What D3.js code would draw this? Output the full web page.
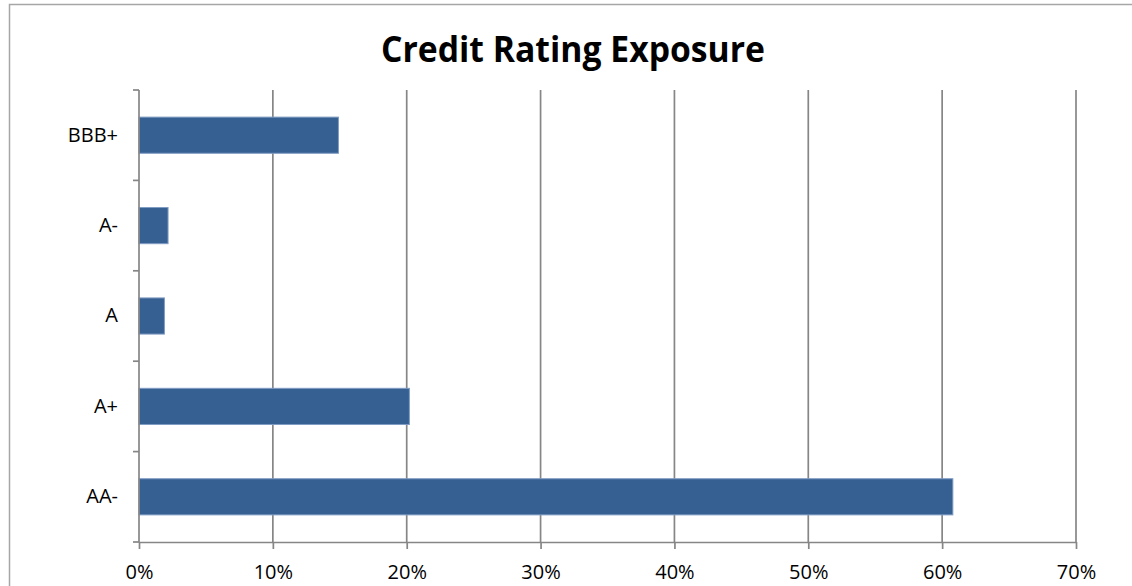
<!DOCTYPE html>
<html>
<head>
<meta charset="utf-8">
<script src="https://cdn.jsdelivr.net/npm/d3@7"></script>
<style>
  html, body { margin: 0; padding: 0; background: #fff; }
</style>
</head>
<body>
<div id="chart"></div>
<script>
// Chart values
const ratings = ["BBB+", "A-", "A", "A+", "AA-"];
const exposure = [0.149, 0.0217, 0.019, 0.202, 0.608];
const xTicks = [0, 0.1, 0.2, 0.3, 0.4, 0.5, 0.6, 0.7];
const title = "Credit Rating Exposure";

const data = ratings.map((r, i) => ({rating: r, value: exposure[i]}));

const width = 1132, height = 586;
const margins = {top: 90, right: 56, bottom: 44, left: 139};
const gridColor = "#868686";
const font = "'Open Sans', sans-serif";

const svg = d3.select("#chart")
  .append("svg")
  .attr("width", width)
  .attr("height", height)
  .attr("viewBox", [0, 0, width, height]);

// Chart area border
svg.append("rect")
  .attr("x", 9.5)
  .attr("y", 4.5)
  .attr("width", width + 20)
  .attr("height", height + 20)
  .attr("fill", "#fff")
  .attr("stroke", "#a6a6a6")
  .attr("stroke-width", 1.5);

// Scales
const x = d3.scaleLinear()
  .domain([0, 0.7])
  .range([margins.left, width - margins.right]);

const y = d3.scaleBand()
  .domain(ratings)
  .range([margins.top, height - margins.bottom])
  .paddingInner(0.6)
  .paddingOuter(0.3);

// Vertical gridlines
svg.append("g")
  .selectAll("line")
  .data(xTicks.slice(1))
  .join("line")
    .attr("x1", d => x(d))
    .attr("x2", d => x(d))
    .attr("y1", margins.top)
    .attr("y2", height - margins.bottom)
    .attr("stroke", gridColor)
    .attr("stroke-width", 1.7);

// Bars
svg.append("g")
  .selectAll("rect")
  .data(data)
  .join("rect")
    .attr("x", x(0))
    .attr("y", d => y(d.rating))
    .attr("width", d => x(d.value) - x(0))
    .attr("height", y.bandwidth())
    .attr("fill", "#376092")
    .attr("stroke", "#7f9cc4")
    .attr("stroke-width", 1);

// X axis
const xAxis = d3.axisBottom(x)
  .tickValues(xTicks)
  .tickFormat(d3.format(".0%"))
  .tickSize(7)
  .tickSizeOuter(0)
  .tickPadding(16);

svg.append("g")
    .attr("transform", `translate(0,${height - margins.bottom})`)
  .call(xAxis)
  .call(g => g.selectAll("line, path").attr("stroke", gridColor).attr("stroke-width", 1.7))
  .call(g => g.selectAll("text")
    .attr("fill", "#000")
    .style("font-family", font)
    .style("font-size", "20px"));

// Y axis (labels at band centres, ticks at band boundaries)
const yAxis = d3.axisLeft(y)
  .tickSize(0)
  .tickPadding(21);

svg.append("g")
    .attr("transform", `translate(${margins.left},0)`)
  .call(yAxis)
  .call(g => g.select(".domain").remove())
  .call(g => g.selectAll("text")
    .attr("fill", "#000")
    .style("font-family", font)
    .style("font-size", "20px"));

const step = y.step();
const bounds = ratings.map(r => y(r) - step * 0.3).concat([y(ratings[ratings.length - 1]) + y.bandwidth() + step * 0.3]);

svg.append("g")
  .selectAll("line")
  .data(bounds)
  .join("line")
    .attr("x1", margins.left - 6)
    .attr("x2", margins.left)
    .attr("y1", d => d)
    .attr("y2", d => d)
    .attr("stroke", gridColor)
    .attr("stroke-width", 1.7);

svg.append("line")
  .attr("x1", margins.left)
  .attr("x2", margins.left)
  .attr("y1", margins.top)
  .attr("y2", height - margins.bottom)
  .attr("stroke", gridColor)
  .attr("stroke-width", 1.7);

// Title
svg.append("text")
  .attr("x", 573)
  .attr("y", 62)
  .attr("text-anchor", "middle")
  .attr("textLength", 384)
  .attr("lengthAdjust", "spacingAndGlyphs")
  .style("font-family", font)
  .style("font-weight", "bold")
  .style("font-size", "35px")
  .attr("fill", "#000")
  .text(title);
</script>
</body>
</html>
